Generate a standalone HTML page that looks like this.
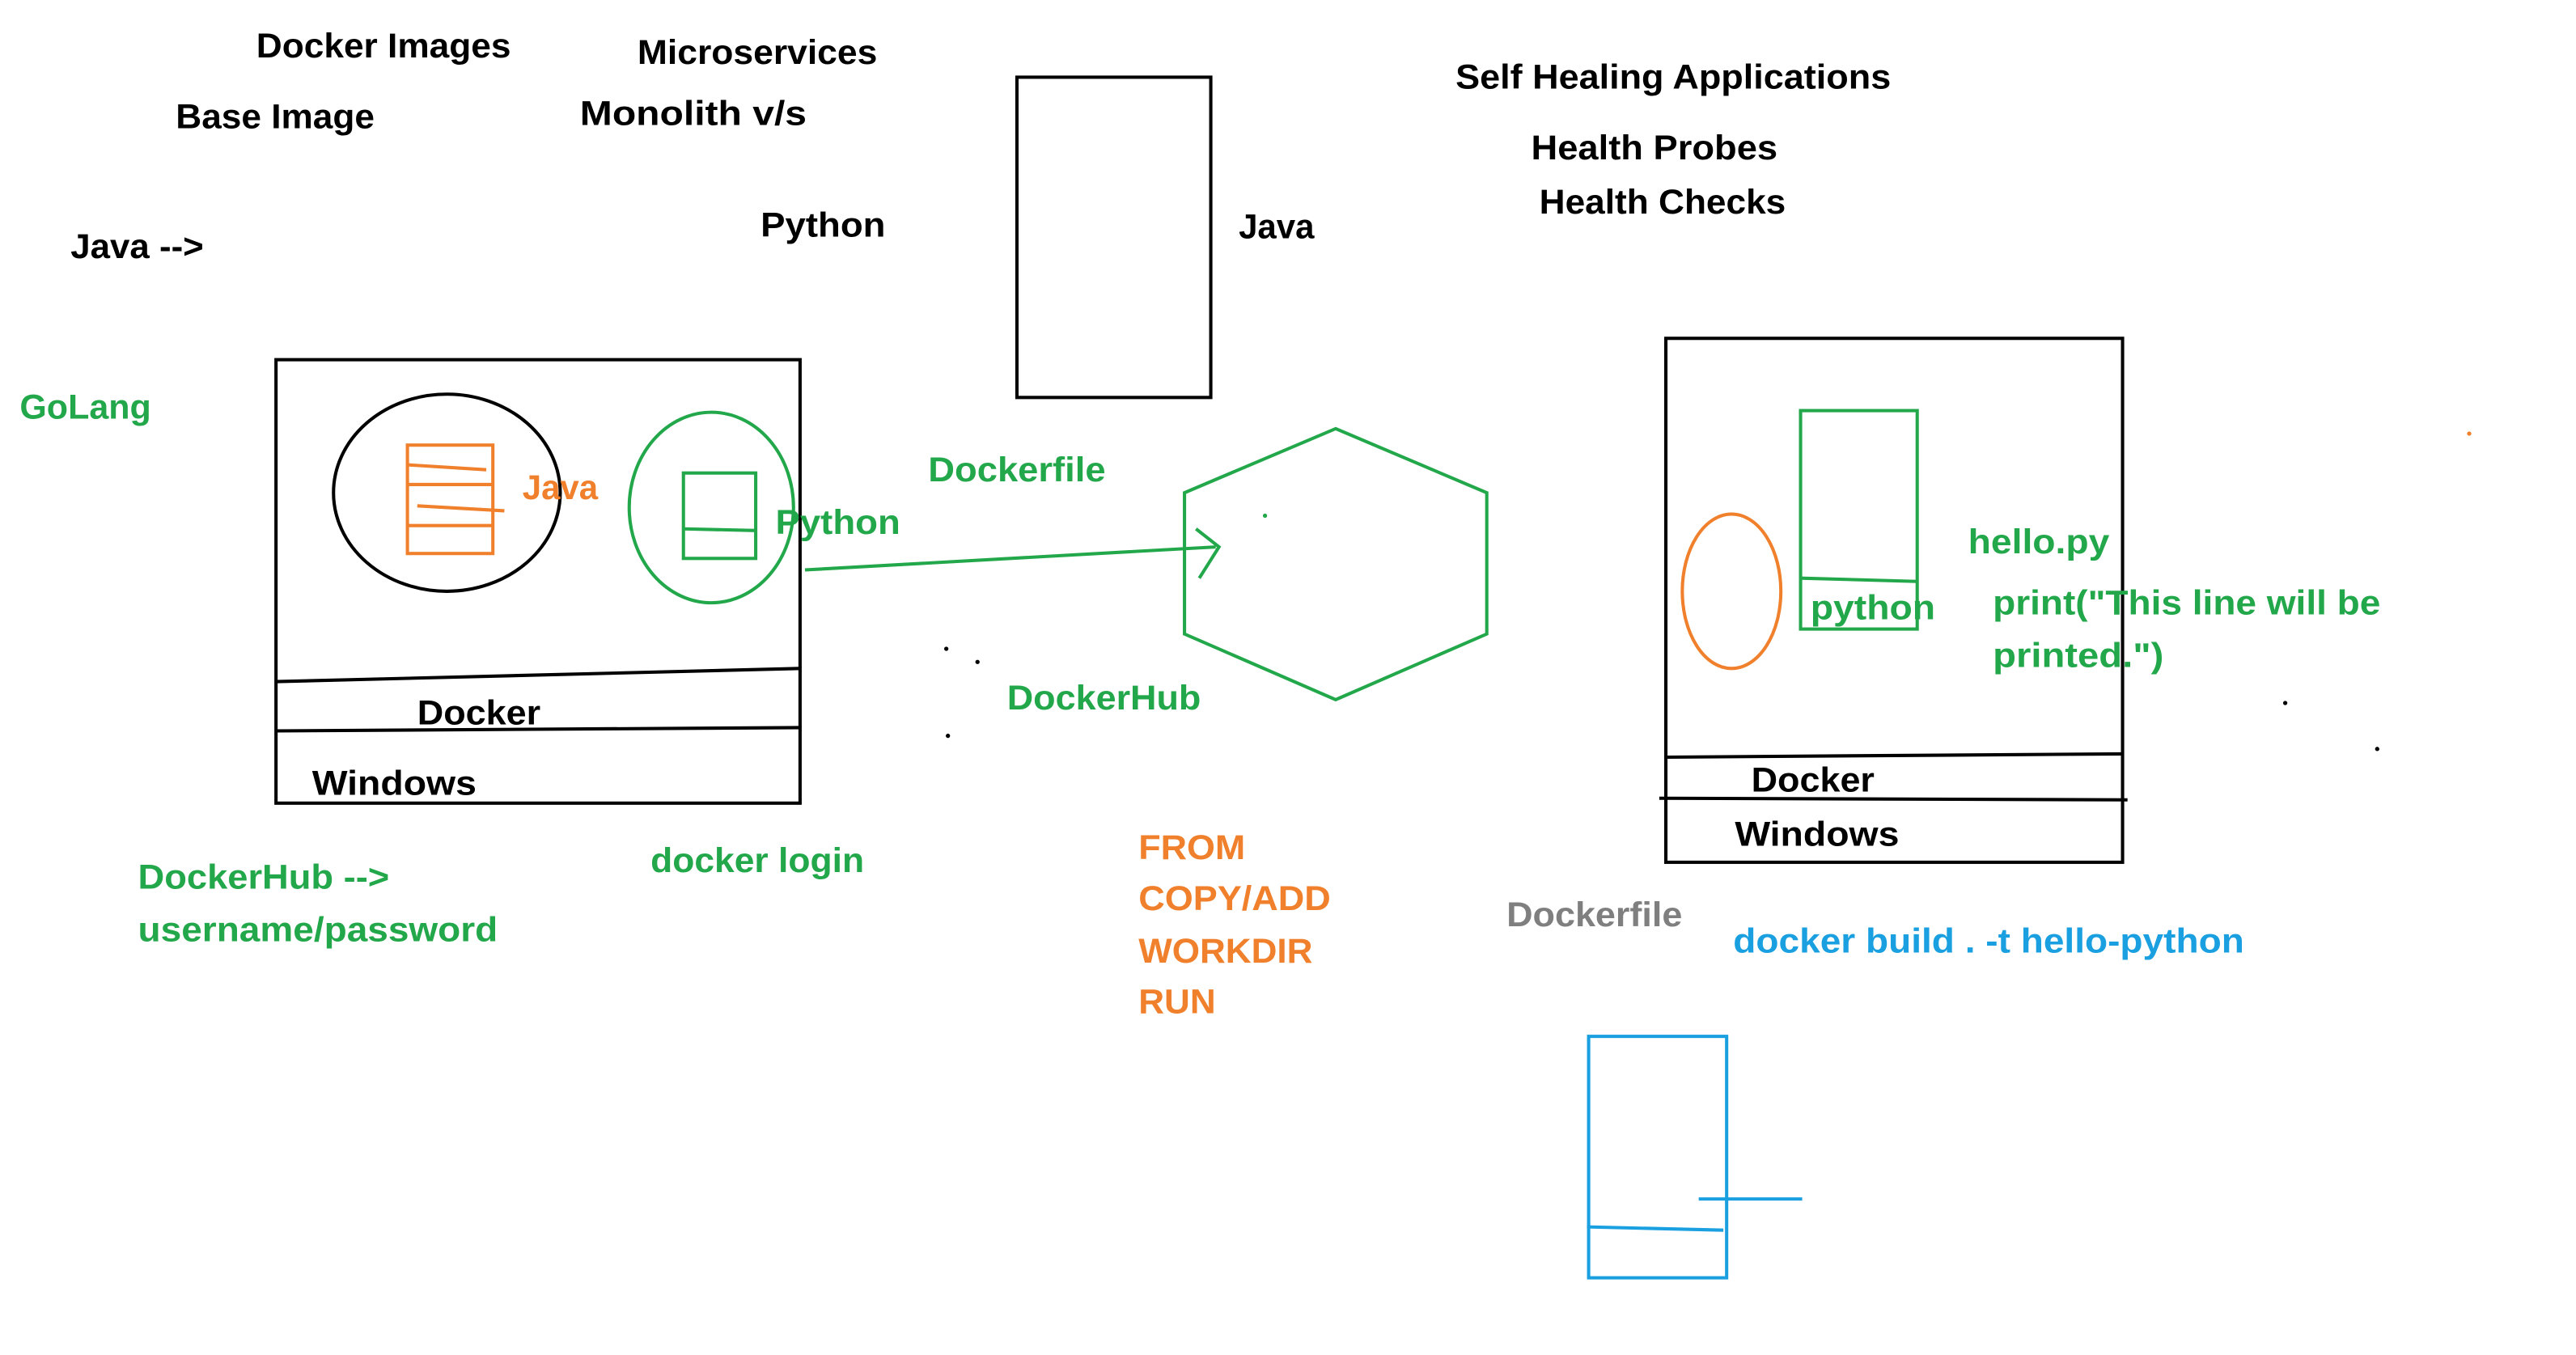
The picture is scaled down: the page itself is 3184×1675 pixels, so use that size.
<!DOCTYPE html>
<html><head><meta charset="utf-8"><style>
html,body{margin:0;padding:0;background:#fff;}
svg{display:block;}
text{font-family:"Liberation Sans",sans-serif;font-weight:bold;font-size:21px;}
.g{fill:#22a84a}.o{fill:#f0802c}.b{fill:#1aa0e0}.k{fill:#000}.gr{fill:#7f7f7f}
</style></head><body>
<svg width="3184" height="1675" viewBox="0 0 1568 825" preserveAspectRatio="none" xmlns="http://www.w3.org/2000/svg">
<g fill="none" stroke-width="2">
<rect x="619" y="47" width="118" height="195" stroke="#000"/>
<rect x="168" y="219" width="319" height="270" stroke="#000"/>
<line x1="168" y1="415" x2="487" y2="407" stroke="#000"/>
<line x1="168" y1="445" x2="487" y2="443" stroke="#000"/>
<ellipse cx="272" cy="300" rx="69" ry="60" stroke="#000"/>
<rect x="248" y="271" width="52" height="66" stroke="#f0802c"/>
<line x1="248" y1="283" x2="296" y2="286" stroke="#f0802c"/>
<line x1="248" y1="295" x2="300" y2="295" stroke="#f0802c"/>
<line x1="254" y1="308" x2="307" y2="311" stroke="#f0802c"/>
<line x1="248" y1="320" x2="300" y2="320" stroke="#f0802c"/>
<ellipse cx="433" cy="309" rx="50" ry="58" stroke="#22a84a"/>
<rect x="416" y="288" width="44" height="52" stroke="#22a84a"/>
<line x1="416" y1="322" x2="460" y2="323" stroke="#22a84a"/>
<path d="M490 347 L740 333 M728 322 L742 333 L730 352" stroke="#22a84a"/>
<polygon points="813,261 905,300 905,386 813,426 721,386 721,300" stroke="#22a84a"/>
<rect x="1014" y="206" width="278" height="319" stroke="#000"/>
<line x1="1014" y1="461" x2="1292" y2="459" stroke="#000"/>
<line x1="1010" y1="486" x2="1295" y2="487" stroke="#000"/>
<ellipse cx="1054" cy="360" rx="30" ry="47" stroke="#f0802c"/>
<rect x="1096" y="250" width="71" height="133" stroke="#22a84a"/>
<line x1="1096" y1="352" x2="1167" y2="354" stroke="#22a84a"/>
<rect x="967" y="631" width="84" height="147" stroke="#1aa0e0"/>
<line x1="966" y1="747" x2="1049" y2="749" stroke="#1aa0e0"/>
<line x1="1034" y1="730" x2="1097" y2="730" stroke="#1aa0e0"/>
</g>
<g fill="#000"><circle cx="576" cy="395" r="1.3"/><circle cx="595" cy="403" r="1.3"/><circle cx="577" cy="448" r="1.3"/><circle cx="770" cy="314" r="1.3" fill="#22a84a"/><circle cx="1391" cy="428" r="1.3"/><circle cx="1447" cy="456" r="1.3"/><circle cx="1503" cy="264" r="1.3" fill="#f0802c"/></g>
<text class="k" x="156" y="35" textLength="155" lengthAdjust="spacingAndGlyphs">Docker Images</text>
<text class="k" x="107" y="78" textLength="121" lengthAdjust="spacingAndGlyphs">Base Image</text>
<text class="k" x="388" y="39" textLength="146" lengthAdjust="spacingAndGlyphs">Microservices</text>
<text class="k" x="353" y="76" textLength="138" lengthAdjust="spacingAndGlyphs">Monolith v/s</text>
<text class="k" x="43" y="157" textLength="81" lengthAdjust="spacingAndGlyphs">Java --&gt;</text>
<text class="k" x="463" y="144" textLength="76" lengthAdjust="spacingAndGlyphs">Python</text>
<text class="k" x="754" y="145" textLength="46" lengthAdjust="spacingAndGlyphs">Java</text>
<text class="k" x="886" y="54" textLength="265" lengthAdjust="spacingAndGlyphs">Self Healing Applications</text>
<text class="k" x="932" y="97" textLength="150" lengthAdjust="spacingAndGlyphs">Health Probes</text>
<text class="k" x="937" y="130" textLength="150" lengthAdjust="spacingAndGlyphs">Health Checks</text>
<text class="g" x="12" y="255" textLength="80" lengthAdjust="spacingAndGlyphs">GoLang</text>
<text class="o" x="318" y="304" textLength="46" lengthAdjust="spacingAndGlyphs">Java</text>
<text class="g" x="472" y="325" textLength="76" lengthAdjust="spacingAndGlyphs">Python</text>
<text class="g" x="565" y="293" textLength="108" lengthAdjust="spacingAndGlyphs">Dockerfile</text>
<text class="g" x="613" y="432" textLength="118" lengthAdjust="spacingAndGlyphs">DockerHub</text>
<text class="k" x="254" y="441" textLength="75" lengthAdjust="spacingAndGlyphs">Docker</text>
<text class="k" x="190" y="484" textLength="100" lengthAdjust="spacingAndGlyphs">Windows</text>
<text class="g" x="396" y="531" textLength="130" lengthAdjust="spacingAndGlyphs">docker login</text>
<text class="g" x="84" y="541" textLength="153" lengthAdjust="spacingAndGlyphs">DockerHub --&gt;</text>
<text class="g" x="84" y="573" textLength="219" lengthAdjust="spacingAndGlyphs">username/password</text>
<text class="o" x="693" y="523" textLength="65" lengthAdjust="spacingAndGlyphs">FROM</text>
<text class="o" x="693" y="554" textLength="117" lengthAdjust="spacingAndGlyphs">COPY/ADD</text>
<text class="o" x="693" y="586" textLength="106" lengthAdjust="spacingAndGlyphs">WORKDIR</text>
<text class="o" x="693" y="617" textLength="47" lengthAdjust="spacingAndGlyphs">RUN</text>
<text class="k" x="1066" y="482" textLength="75" lengthAdjust="spacingAndGlyphs">Docker</text>
<text class="k" x="1056" y="515" textLength="100" lengthAdjust="spacingAndGlyphs">Windows</text>
<text class="g" x="1102" y="377" textLength="76" lengthAdjust="spacingAndGlyphs">python</text>
<text class="g" x="1198" y="337" textLength="86" lengthAdjust="spacingAndGlyphs">hello.py</text>
<text class="g" x="1213" y="374" textLength="236" lengthAdjust="spacingAndGlyphs">print("This line will be</text>
<text class="g" x="1213" y="406" textLength="104" lengthAdjust="spacingAndGlyphs">printed.")</text>
<text class="gr" x="917" y="564" textLength="107" lengthAdjust="spacingAndGlyphs">Dockerfile</text>
<text class="b" x="1055" y="580" textLength="311" lengthAdjust="spacingAndGlyphs">docker build . -t hello-python</text>
</svg>
</body></html>
